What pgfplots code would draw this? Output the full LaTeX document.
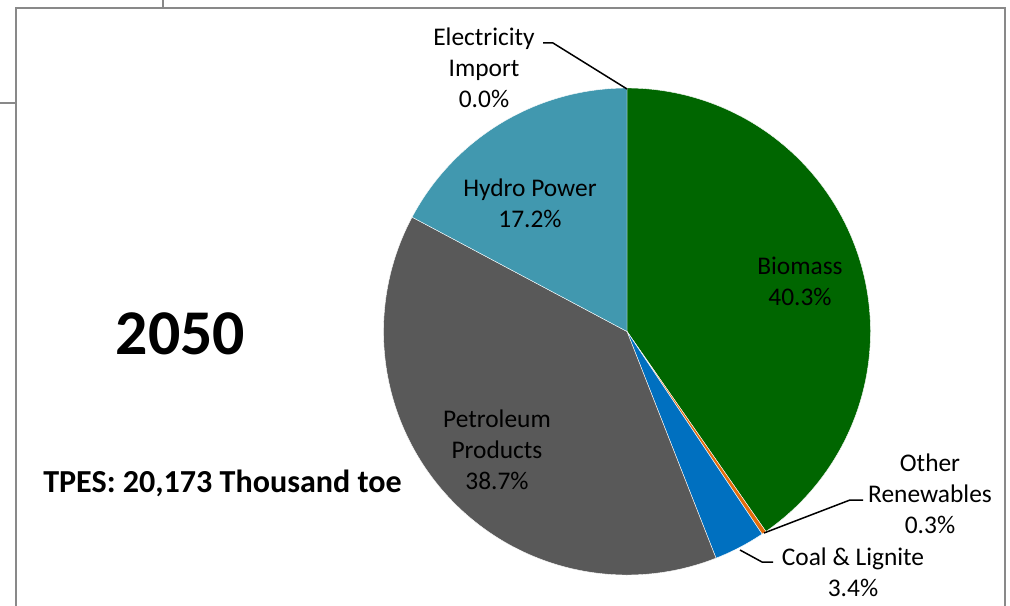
\documentclass[border=0pt]{standalone}
\usepackage{fontspec}
\setmainfont{Carlito}
\usepackage{pgfplots}
\pgfplotsset{compat=1.18}
\definecolor{cBio}{RGB}{0,102,0}
\definecolor{cOther}{RGB}{228,108,10}
\definecolor{cCoal}{RGB}{0,112,192}
\definecolor{cPet}{RGB}{89,89,89}
\definecolor{cHydro}{RGB}{65,152,175}
\definecolor{cFrame}{RGB}{137,137,137}
% share of TPES 2050 (%); slices run clockwise from 12 o'clock
% \pieslice{cumulative share before}{share}{colour}   (shares sum to 99.9)
\newcommand{\pieslice}[3]{%
  \pgfmathsetmacro{\angA}{90-(360/99.9)*(#1+#2)}%
  \pgfmathsetmacro{\angB}{90-(360/99.9)*(#1)}%
  \edef\temp{\noexpand\addplot[fill=#3, draw=white, line width=0.4bp, data cs=polar, domain=\angA:\angB, samples=150] {1} -- (axis cs:0,0) -- cycle;}%
  \temp}
\begin{document}
\begin{tikzpicture}[x=1bp,y=-1bp]
\path[use as bounding box] (0,0) rectangle (1010,606);
\begin{scope}
\clip (0,0) rectangle (1010,606);
\draw[cFrame, line width=2bp] (16,640) -- (16,8) -- (1005,8) -- (1005,640);
\draw[cFrame, line width=2bp] (163,0) -- (163,8);
\draw[cFrame, line width=2bp] (0,103) -- (16,103);
\end{scope}
\begin{axis}[at={(627bp,-331.5bp)}, anchor=center, scale only axis,
  width=487bp, height=487bp, xmin=-1, xmax=1, ymin=-1, ymax=1,
  hide axis, clip=false]
\pieslice{0}{40.3}{cBio}     % Biomass
\pieslice{40.3}{0.3}{cOther} % Other Renewables
\pieslice{40.6}{3.4}{cCoal}  % Coal & Lignite
\pieslice{44.0}{38.7}{cPet}  % Petroleum Products
\pieslice{82.7}{17.2}{cHydro}% Hydro Power
% Electricity Import 0.0
\end{axis}
\begin{scope}[font=\fontsize{25.5}{31}\selectfont, align=center, inner sep=0pt]
\node at (484,68) {Electricity\\Import\\0.0\%};
\node at (530,203.5) {Hydro Power\\17.2\%};
\node at (800,281) {Biomass\\40.3\%};
\node at (497,450) {Petroleum\\Products\\38.7\%};
\node at (930,494) {Other\\Renewables\\0.3\%};
\node at (853,572.5) {Coal \& Lignite\\3.4\%};
\end{scope}
\draw[black, line width=1.5bp] (543,43) -- (553,43) -- (627,89);
\draw[black, line width=1.5bp] (764,533) -- (850,500) -- (863,500);
\draw[black, line width=1.5bp] (740,550) -- (762,562) -- (773,562);
\node[inner sep=0pt, font=\fontsize{64}{70}\selectfont\bfseries] at (180.5,333.5) {2050};
\node[inner sep=0pt, anchor=base, font=\fontsize{32.2}{36}\selectfont\bfseries] at (222.5,492) {TPES: 20,173 Thousand toe};
\end{tikzpicture}
\end{document}
